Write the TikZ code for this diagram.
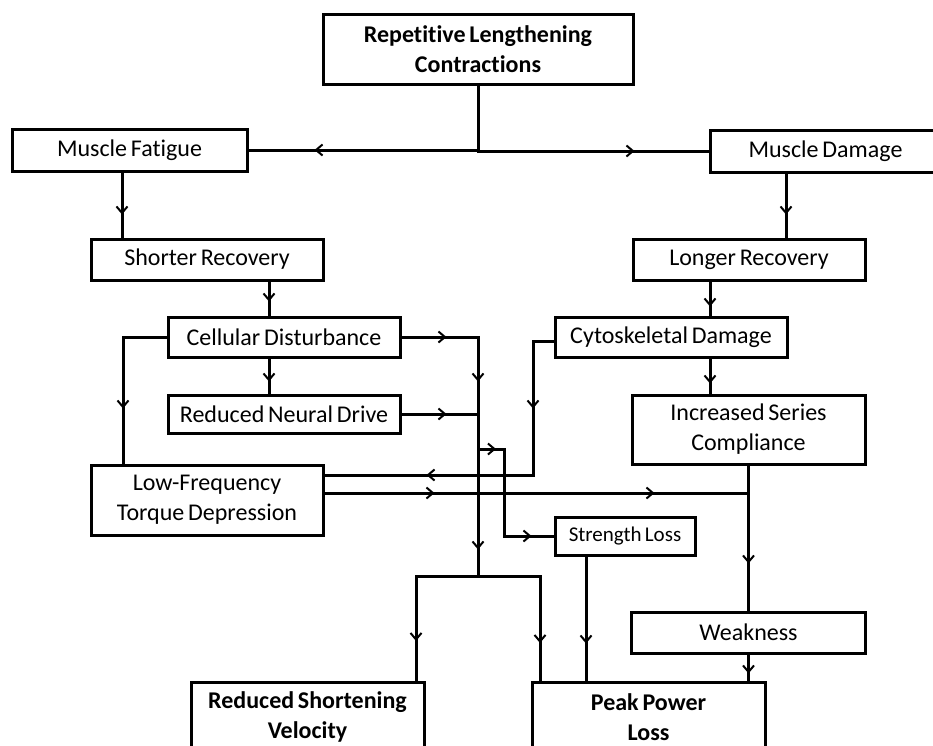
\documentclass[tikz,border=0pt]{standalone}
\usepackage{fontspec}
\setmainfont{Carlito}[WordSpace=0.7, Ligatures=CommonOff]
\usepackage{tikz}
\usetikzlibrary{arrows.meta}
\usetikzlibrary{decorations.markings}

\tikzset{
  box/.style={draw, line width=3pt, align=center, inner sep=0pt,
    minimum width=232pt, minimum height=40pt,
    font=\fontsize{24}{30}\selectfont},
  bold/.style={font=\fontsize{24}{30}\selectfont\bfseries},
  arr/.style={postaction={decorate, decoration={markings,
    mark=at position #1 with {\arrow{Straight Barb[length=6.5pt,width=11pt,line width=2pt]}}}}}
}

\begin{document}
\begin{tikzpicture}[x=1pt, y=-1pt, line width=3pt]
\fill [white] (0,0) rectangle (933,745);
\useasboundingbox (0,0) rectangle (933,745);

\node [box, bold, minimum width=310pt, minimum height=70pt] (rlc) at (478,49) {Repetitive Lengthening\\Contractions};
\node [box, minimum width=235pt, minimum height=42pt] (fatigue) at (129.5,150) {Muscle Fatigue};
\node [box, minimum width=231pt, minimum height=42pt] (damage) at (825.5,151) {Muscle Damage};
\node [box, minimum height=41pt] (shorter) at (207,259.5) {Shorter Recovery};
\node [box, minimum height=41pt] (longer) at (749,259.5) {Longer Recovery};
\node [box] (cellular) at (284,337) {Cellular Disturbance};
\node [box, minimum height=38pt] (neural) at (284,414) {Reduced Neural Drive};
\node [box] (cyto) at (671,337) {Cytoskeletal Damage};
\node [box, minimum width=233pt, minimum height=69pt] (compliance) at (748.5,429.5) {Increased Series\\Compliance};
\node [box, minimum height=70pt] (lftd) at (207,500) {Low-Frequency\\Torque Depression};
\node [box, minimum width=140pt, minimum height=38pt, font=\fontsize{21}{25}\selectfont] (strength) at (625,536) {Strength Loss};
\node [box, minimum width=234pt, minimum height=41pt] (weakness) at (748.5,632.5) {Weakness};
\node [box, bold, minimum width=233pt, minimum height=70pt] (rsv) at (307.5,717) {Reduced Shortening\\Velocity};
\node [box, bold, minimum width=233pt, minimum height=70pt] (peak) at (648.5,717) {Peak Power\\Loss};

\coordinate (split) at (478,576);
\coordinate (tap) at (478,449);

\draw [arr=-66pt] (rlc.south) |- (fatigue.east);
\draw [arr=-74pt] (rlc.south) |- (damage.west);
\draw [arr=42pt] ([xshift=-7.5pt]fatigue.south) coordinate (f1) -- (f1 |- shorter.north);
\draw [arr=41pt] ([xshift=-39.5pt]damage.south) coordinate (d1) -- (d1 |- longer.north);
\draw [arr=20pt] ([xshift=62pt]shorter.south) coordinate (s1) -- (s1 |- cellular.north);
\draw [arr=25pt] ([xshift=-39pt]longer.south) coordinate (l1) -- (l1 |- cyto.north);
\draw [arr=23pt] ([xshift=-15pt]cellular.south) coordinate (c1) -- (c1 |- neural.north);
\draw [arr=25pt] ([xshift=39pt]cyto.south) coordinate (c2) -- (c2 |- compliance.north);

\draw [arr=115pt] (cellular.west) -| ([xshift=-84pt]lftd.north);
\draw [arr=45pt, arr=121pt, arr=289pt] (cellular.east) -| (split);
\draw [arr=45pt] (neural.east) -- (neural.east -| split);
\draw [arr=18pt, arr=-22pt] (tap) -- ++(26,0) |- (strength.west);
\draw [arr=88pt, arr=-102pt] ([yshift=-4pt]cyto.west) -| (533,475) -- ([yshift=25pt]lftd.east);
\draw [arr=110pt, arr=330pt] ([yshift=7pt]lftd.east) coordinate (t1) -- (t1 -| compliance.south);
\draw [arr=98pt] (compliance.south) -- (weakness.north);
\draw [arr=19pt] (weakness.south) -- (weakness.south |- peak.north);
\draw [arr=127pt] (split) -| ([xshift=108.5pt]rsv.north);
\draw [arr=129pt] (split) -| ([xshift=-108.5pt]peak.north);
\draw [arr=87pt] ([xshift=-39pt]strength.south) coordinate (s2) -- (s2 |- peak.north);

\end{tikzpicture}
\end{document}
